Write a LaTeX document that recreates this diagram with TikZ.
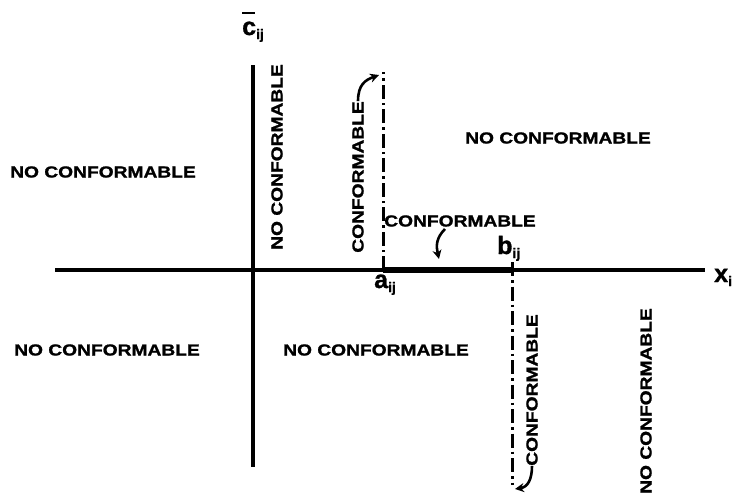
\documentclass[tikz,border=0pt]{standalone}
\usepackage{fontspec}
\usetikzlibrary{arrows.meta}
\newfontfamily\labfont{Liberation Sans}[FakeStretch=1.2,FakeBold=1.2]
\newfontfamily\symfont{Liberation Sans}[FakeBold=1.2]
\newcommand\lowidx[1]{\raisebox{-4pt}{\fontsize{14}{14}\selectfont #1}}
\begin{document}
\begin{tikzpicture}[x=1pt,y=-1pt,
  lab/.style={font=\labfont\bfseries\fontsize{16}{16}\selectfont, inner sep=0pt},
  sym/.style={font=\symfont\bfseries\fontsize{25}{25}\selectfont, inner sep=0pt, anchor=base west},
  axis/.style={line width=3.2pt},
  dashdot/.style={line width=3pt, dash pattern=on 14pt off 4pt on 2.5pt off 4pt},
  arr/.style={line width=2.6pt, -{Stealth[length=9pt,width=9pt]}}]
\useasboundingbox (0,0) rectangle (735,501);
% axes
\coordinate (xl) at (55,270);
\coordinate (xr) at (705,270);
\coordinate (yt) at (253,65);
\coordinate (yb) at (253,467);
\draw[axis] (xl) -- (xr);
\draw[line width=3.6pt] (yt) -- (yb);
% feasible segment and dash-dot lines
\coordinate (a) at (383,270);
\coordinate (b) at (512,270);
\coordinate (atop) at (383,72);
\coordinate (btop) at (512,262);
\coordinate (bbot) at (512,485);
\draw[line width=6pt] (a) -- (b);
\draw[dashdot] (a) -- (atop);
\draw[dashdot] (btop) -- (bbot);
% labels
\node[lab] (nc1) at (103,172) {NO CONFORMABLE};
\node[lab] (nc2) at (558,138) {NO CONFORMABLE};
\node[lab] (nc3) at (107,350) {NO CONFORMABLE};
\node[lab] (nc4) at (376,350) {NO CONFORMABLE};
\node[lab,rotate=90] (nc5) at (277,157) {NO CONFORMABLE};
\node[lab,rotate=90] (nc6) at (646,401) {NO CONFORMABLE};
\node[lab,rotate=90] (cf1) at (358,177) {CONFORMABLE};
\node[lab] (cf2) at (460,221) {CONFORMABLE};
\node[lab,rotate=90] (cf3) at (532,390) {CONFORMABLE};
% arrows
\coordinate (t1) at (379,75);
\coordinate (t2) at (439,259);
\coordinate (t3) at (515,489);
\draw[arr] (cf1.east) .. controls (358,85) and (365,80) .. (t1);
\draw[arr] (445,229) .. controls (436,238) and (436,246) .. (t2);
\draw[arr] (cf3.west) .. controls (532,479) and (528,487) .. (t3);
% symbols
\node[sym] (cl) at (242,35) {\makebox[0pt][l]{\rule[21pt]{13pt}{2.2pt}}c\lowidx{ij}};
\node[sym] (al) at (374,288) {a\lowidx{ij}};
\node[sym] (bl) at (497,254) {b\lowidx{ij}};
\node[sym] (xlab) at (714,282) {x\lowidx{i}};
\end{tikzpicture}
\end{document}
